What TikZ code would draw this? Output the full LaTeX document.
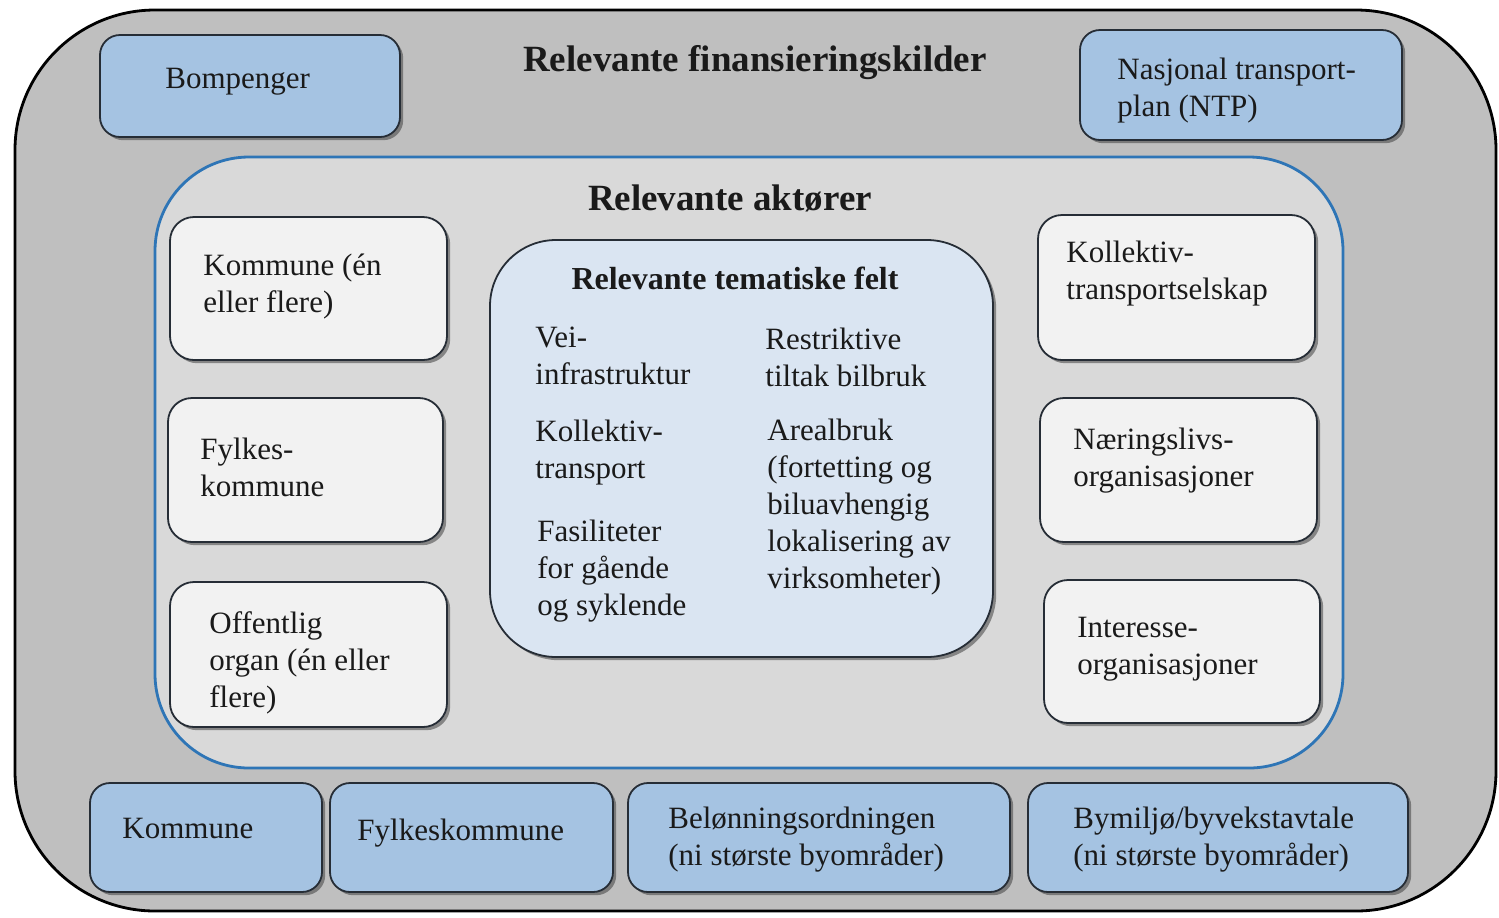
\documentclass[tikz,border=0pt]{standalone}
\usepackage{fontspec}
\setmainfont{Liberation Serif}
\usepackage{xcolor}
\usetikzlibrary{shadows}
\definecolor{outerbg}{HTML}{BFBFBF}
\definecolor{actbg}{HTML}{D9D9D9}
\definecolor{actline}{HTML}{2E75B6}
\definecolor{finblue}{HTML}{A5C3E2}
\definecolor{temabg}{HTML}{DAE5F2}
\definecolor{whitebox}{HTML}{F2F2F2}
\definecolor{edge}{HTML}{262D36}
\definecolor{ink}{HTML}{1A1A1A}
\tikzset{
  outerbox/.style={draw=black, line width=1.4pt, fill=outerbg, rounded corners=70pt},
  actbox/.style={draw=actline, line width=1.4pt, fill=actbg, rounded corners=47pt},
  boxshadow/.style={drop shadow={shadow xshift=1.6pt, shadow yshift=-1.6pt, opacity=0.55, fill=black!75}},
  finbox/.style={draw=edge, line width=0.9pt, fill=finblue, rounded corners=10pt, boxshadow},
  aktbox/.style={draw=edge, line width=0.9pt, fill=whitebox, rounded corners=12pt, boxshadow},
  temabox/.style={draw=edge, line width=0.9pt, fill=temabg, rounded corners=33pt, boxshadow},
  lab/.style={text=ink, font=\fontsize{15.5}{18.5}\selectfont, align=left, inner sep=0pt, anchor=west},
  head/.style={text=ink, font=\bfseries\fontsize{18.5}{22}\selectfont, inner sep=0pt},
  subhead/.style={text=ink, font=\bfseries\fontsize{16}{19}\selectfont, inner sep=0pt}
}
\begin{document}
\begin{tikzpicture}[x=0.5pt, y=-0.5pt]
  \useasboundingbox (0,0) rectangle (1499,917);

  % Financing sources (outer frame)
  \draw[outerbox] (15,10) rectangle (1496,911);
  \node[head] (finTitle) at (755,63) {Relevante finansieringskilder};

  \draw[finbox] (100,35) rectangle (400,137);
  \node[lab] (bomp) at (165,82) {Bompenger};
  \draw[finbox] (1080,30) rectangle (1402,140);
  \node[lab] (ntp) at (1117,91) {Nasjonal transport-\\plan (NTP)};

  \draw[finbox] (90,783) rectangle (322,892);
  \node[lab] (kommB) at (122,828) {Kommune};
  \draw[finbox] (330,783) rectangle (613,892);
  \node[lab] (fylkB) at (357,833) {Fylkeskommune};
  \draw[finbox] (628,783) rectangle (1010,892);
  \node[lab] (belonn) at (668,840) {Belønningsordningen\\(ni største byområder)};
  \draw[finbox] (1028,783) rectangle (1408,892);
  \node[lab] (bymiljo) at (1073,840) {Bymiljø/byvekstavtale\\(ni største byområder)};

  % Actors
  \draw[actbox] (155,157) rectangle (1343,768);
  \node[head] (aktTitle) at (730,198) {Relevante aktører};

  \draw[aktbox] (170,217) rectangle (447,360);
  \node[lab] (kommA) at (203,287) {Kommune (én\\eller flere)};
  \draw[aktbox] (168,398) rectangle (443,542);
  \node[lab] (fylkA) at (200,467) {Fylkes-\\kommune};
  \draw[aktbox] (170,582) rectangle (447,727);
  \node[lab] (offorg) at (209,663) {Offentlig\\organ (én eller\\flere)};

  \draw[aktbox] (1038,215) rectangle (1315,360);
  \node[lab] (koll) at (1066,274) {Kollektiv-\\transportselskap};
  \draw[aktbox] (1040,398) rectangle (1317,542);
  \node[lab] (naering) at (1073,461) {Næringslivs-\\organisasjoner};
  \draw[aktbox] (1044,580) rectangle (1320,723);
  \node[lab] (interesse) at (1077,649) {Interesse-\\organisasjoner};

  % Thematic fields
  \draw[temabox] (490,240) rectangle (993,657);
  \node[subhead] (temaTitle) at (735,278) {Relevante tematiske felt};
  \node[lab] (vei) at (535,356) {Vei-\\infrastruktur};
  \node[lab] (kolltr) at (535,453) {Kollektiv-\\transport};
  \node[lab] (fasil) at (537,571) {Fasiliteter\\for gående\\og syklende};
  \node[lab] (restr) at (765,357) {Restriktive\\tiltak bilbruk};
  \node[lab] (areal) at (767,507) {Arealbruk\\(fortetting og\\biluavhengig\\lokalisering av\\virksomheter)};
\end{tikzpicture}
\end{document}
